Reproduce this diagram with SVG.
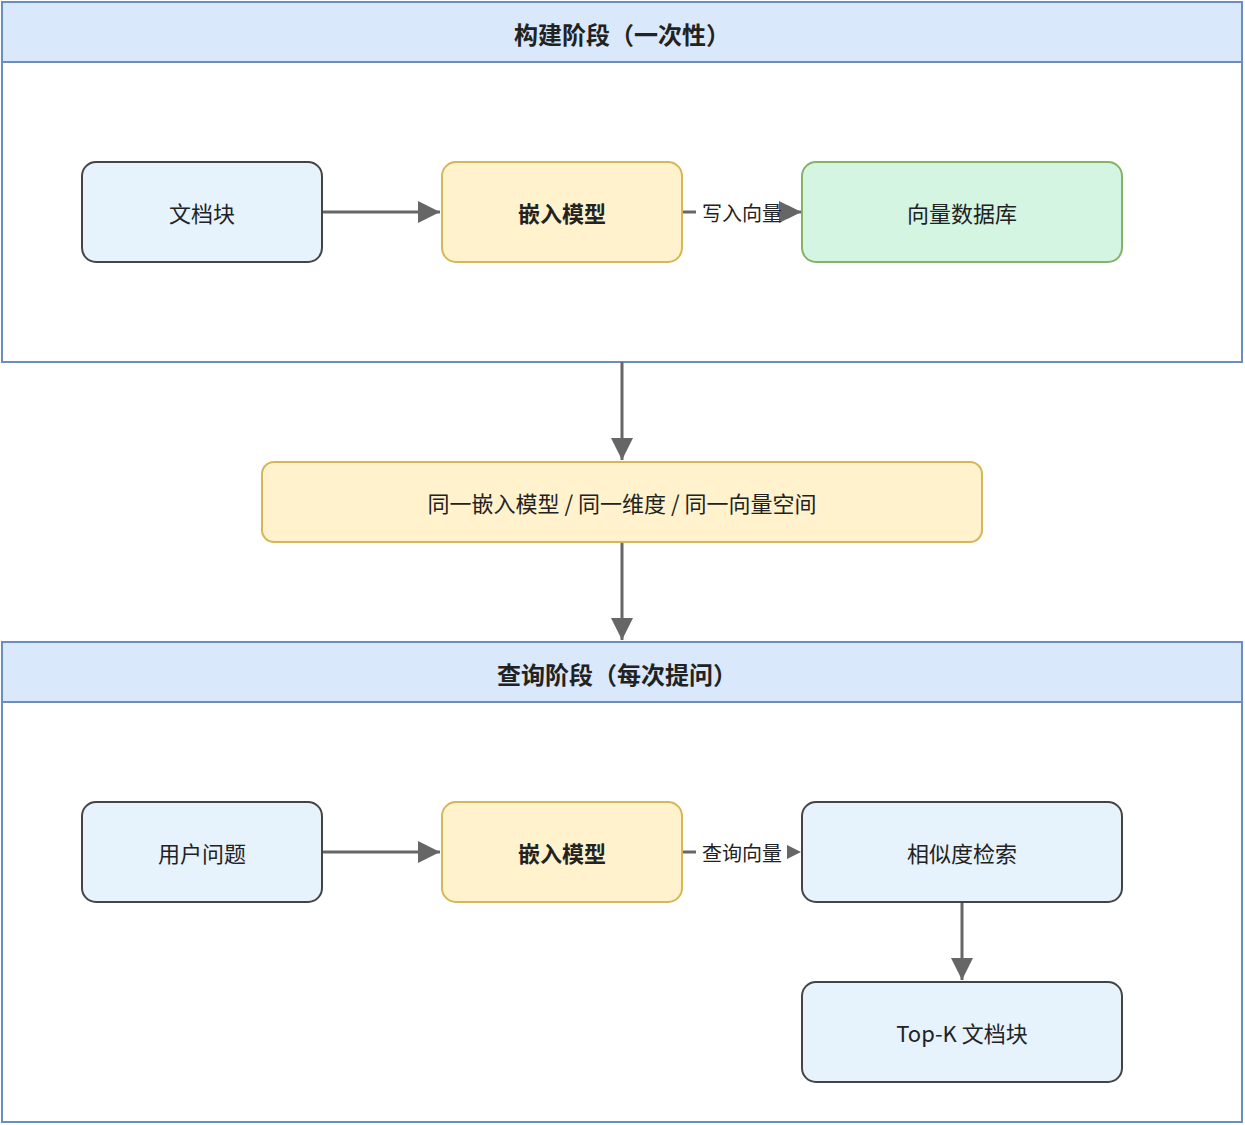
<svg xmlns="http://www.w3.org/2000/svg" width="1245" height="1125" viewBox="0 0 1245 1125">
<style>
text{font-family:"Noto Sans CJK SC","Liberation Sans",sans-serif;fill:#222;text-anchor:middle;dominant-baseline:central}
.t{font-size:22px}
.b{font-weight:bold}
.h{font-size:24px;font-weight:bold}
.l{font-size:20px}
.blue{fill:#e6f2fc;stroke:#444;stroke-width:2}
.yel{fill:#fff2cc;stroke:#d6b656;stroke-width:2}
.grn{fill:#d5f5e3;stroke:#82b366;stroke-width:2}
.c{stroke:#666;stroke-width:3;fill:none}
</style>
<defs><marker id="a" viewBox="0 0 10 10" refX="10" refY="5" markerWidth="7" markerHeight="7" markerUnits="userSpaceOnUse" orient="auto"><path d="M0,0L10,5L0,10z" fill="#666"/></marker>
<marker id="A" viewBox="0 0 10 10" refX="10" refY="5" markerWidth="22" markerHeight="22" markerUnits="userSpaceOnUse" orient="auto"><path d="M0,0L10,5L0,10z" fill="#666"/></marker></defs>
<g id="build"><rect x="2" y="2" width="1240" height="360" fill="#fff" stroke="#6c8ebf" stroke-width="2"/><rect x="2" y="2" width="1240" height="60" fill="#dae8fc" stroke="#6c8ebf" stroke-width="2"/><text x="622" y="33" class="h">构建阶段（一次性）</text></g>
<g id="query"><rect x="2" y="642" width="1240" height="480" fill="#fff" stroke="#6c8ebf" stroke-width="2"/><rect x="2" y="642" width="1240" height="60" fill="#dae8fc" stroke="#6c8ebf" stroke-width="2"/><text x="617" y="673" class="h">查询阶段（每次提问）</text></g>
<g id="connectors">
<path class="c" d="M322,212H440" marker-end="url(#A)"/>
<path class="c" d="M682,212H696M788,212H800" marker-end="url(#A)" style="display:none"/>
<path class="c" d="M682,212H696"/><path class="c" d="M788,212H801" marker-end="url(#A)" stroke-width="0"/>
<path d="M787,205L801,212L787,219z" fill="#666"/>
<text x="742" y="212" class="l">写入向量</text>
<path class="c" d="M622,362V460" marker-end="url(#A)"/>
<path class="c" d="M622,542V640" marker-end="url(#A)"/>
<path class="c" d="M322,852H440" marker-end="url(#A)"/>
<path class="c" d="M682,852H696"/>
<path d="M787,845L801,852L787,859z" fill="#666"/>
<text x="742" y="852" class="l">查询向量</text>
<path class="c" d="M962,902V980" marker-end="url(#A)"/>
</g>
<g id="n1"><rect class="blue" x="82" y="162" width="240" height="100" rx="14"/><text x="202" y="212" class="t">文档块</text></g>
<g id="n2"><rect class="yel" x="442" y="162" width="240" height="100" rx="14"/><text x="562" y="212" class="t b">嵌入模型</text></g>
<g id="n3"><rect class="grn" x="802" y="162" width="320" height="100" rx="14"/><text x="962" y="212" class="t">向量数据库</text></g>
<g id="n4"><rect class="yel" x="262" y="462" width="720" height="80" rx="12"/><text x="622" y="502" class="t">同一嵌入模型 / 同一维度 / 同一向量空间</text></g>
<g id="n5"><rect class="blue" x="82" y="802" width="240" height="100" rx="14"/><text x="202" y="852" class="t">用户问题</text></g>
<g id="n6"><rect class="yel" x="442" y="802" width="240" height="100" rx="14"/><text x="562" y="852" class="t b">嵌入模型</text></g>
<g id="n7"><rect class="blue" x="802" y="802" width="320" height="100" rx="14"/><text x="962" y="852" class="t">相似度检索</text></g>
<g id="n8"><rect class="blue" x="802" y="982" width="320" height="100" rx="14"/><text x="962" y="1032" class="t">Top-K 文档块</text></g>
</svg>
